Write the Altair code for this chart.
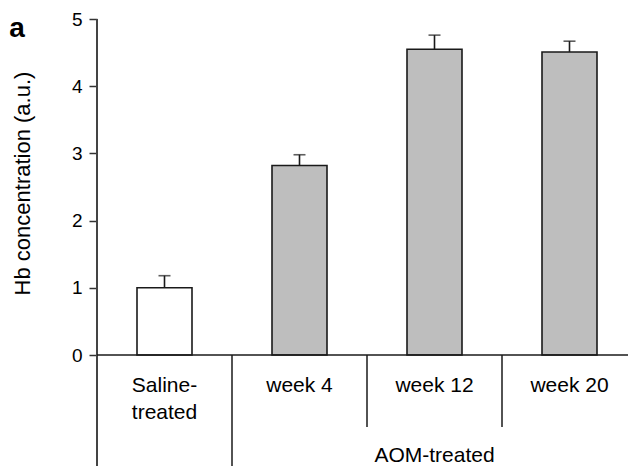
import altair as alt
import pandas as pd

# ---- data ----
categories = ["Saline-treated", "week 4", "week 12", "week 20"]
values = [1.00, 2.82, 4.55, 4.51]
errors = [0.18, 0.16, 0.21, 0.16]
groups = ["saline", "aom", "aom", "aom"]
label_line1 = ["Saline-", "week 4", "week 12", "week 20"]
label_line2 = ["treated", "", "", ""]
y_ticks = [0, 1, 2, 3, 4, 5]
group_label = "AOM-treated"
group_anchor = "week 12"
long_dividers = ["week 4"]
short_dividers = ["week 12", "week 20"]
panel_label = "a"
y_title = "Hb concentration (a.u.)"

FONT = "Liberation Sans"
INK = "#1a1a1a"
H = 336

df = pd.DataFrame({
    "cat": categories,
    "value": values,
    "err": errors,
    "group": groups,
    "l1": label_line1,
    "l2": label_line2,
})
df["top"] = df["value"] + df["err"]

x_scale = alt.Scale(domain=categories, range=[0, 540], paddingInner=0, paddingOuter=0)
y_scale = alt.Scale(domain=[0, 5], nice=False, zero=True)
X = alt.X("cat:N", scale=x_scale, axis=None, sort=categories)

base = alt.Chart(df)

bars = base.mark_bar(size=55, stroke=INK, strokeWidth=1.6).encode(
    x=X,
    y=alt.Y(
        "value:Q",
        scale=y_scale,
        axis=alt.Axis(
            values=y_ticks,
            format="d",
            title=y_title,
            domain=False,
            grid=False,
            ticks=True,
            tickSize=8,
            tickWidth=1.5,
            tickColor="#333333",
            labelFont=FONT,
            labelFontSize=19,
            labelColor="#000000",
            labelPadding=7,
            titleFont=FONT,
            titleFontSize=22,
            titleFontWeight="normal",
            titleColor="#000000",
            titleAngle=-90,
            titleAlign="center",
            titleBaseline="middle",
            titleX=-75,
            titleY=164,
        ),
    ),
    fill=alt.Color(
        "group:N",
        scale=alt.Scale(domain=["saline", "aom"], range=["#ffffff", "#bebebe"]),
        legend=None,
    ),
)

err_rule = base.mark_rule(color=INK, strokeWidth=1.6).encode(
    x=X, y=alt.Y("value:Q", scale=y_scale), y2="top:Q"
)
err_cap = base.mark_tick(size=12, thickness=1.6, color=INK, orient="horizontal").encode(
    x=X, y=alt.Y("top:Q", scale=y_scale)
)

y_line = alt.Chart(pd.DataFrame({"k": [0]})).mark_rule(color="#444444", strokeWidth=2).encode(
    x=alt.value(0), y=alt.Y(datum=5, scale=y_scale), y2=alt.value(H + 111)
)
x_line = alt.Chart(pd.DataFrame({"k": [0]})).mark_rule(color=INK, strokeWidth=1.5).encode(
    x=alt.value(0), x2=alt.value(540), y=alt.Y(datum=0, scale=y_scale)
)

div_long = alt.Chart(pd.DataFrame({"cat": long_dividers})).mark_rule(color=INK, strokeWidth=1.5).encode(
    x=alt.X("cat:N", scale=x_scale, axis=None, bandPosition=0),
    y=alt.Y(datum=0, scale=y_scale),
    y2=alt.value(H + 111),
)
div_short = alt.Chart(pd.DataFrame({"cat": short_dividers})).mark_rule(color=INK, strokeWidth=1.5).encode(
    x=alt.X("cat:N", scale=x_scale, axis=None, bandPosition=0),
    y=alt.Y(datum=0, scale=y_scale),
    y2=alt.value(H + 72),
)

txt1 = base.mark_text(font=FONT, fontSize=21, color="#000000", align="center", baseline="middle").encode(
    x=X, y=alt.value(H + 31), text="l1:N"
)
txt2 = base.mark_text(font=FONT, fontSize=21, color="#000000", align="center", baseline="middle").encode(
    x=X, y=alt.value(H + 58), text="l2:N"
)
grp_txt = alt.Chart(pd.DataFrame({"cat": [group_anchor], "label": [group_label]})).mark_text(
    font=FONT, fontSize=21, color="#000000", align="center", baseline="middle"
).encode(x=alt.X("cat:N", scale=x_scale, axis=None), y=alt.value(H + 101), text="label:N")

panel = alt.Chart(pd.DataFrame({"t": [panel_label]})).mark_text(
    font=FONT, fontSize=28, fontWeight="bold", color="#000000", align="center", baseline="alphabetic"
).encode(x=alt.value(-80), y=alt.value(18), text="t:N")

chart = alt.layer(
    bars, err_rule, err_cap, y_line, x_line, div_long, div_short, txt1, txt2, grp_txt, panel
).properties(
    width=531,
    height=H,
    autosize=alt.AutoSizeParams(type="none"),
    padding={"left": 89, "top": 11, "right": 0, "bottom": 111},
    background="#ffffff",
).configure_view(stroke="transparent")

chart.save("out.html", embed_options={"renderer": "svg", "actions": False})
